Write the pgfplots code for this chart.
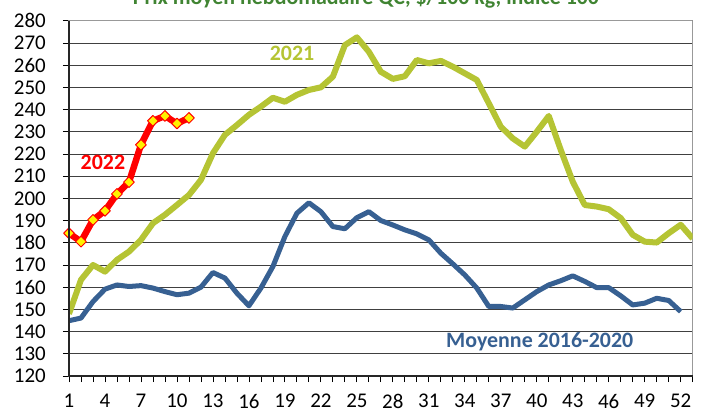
\documentclass[border=0pt]{standalone}
\usepackage{fontspec}
\setmainfont{Carlito}
\usepackage{pgfplots}
\pgfplotsset{compat=1.18}
\definecolor{cgreen}{RGB}{181,196,52}
\definecolor{cblue}{RGB}{55,96,146}
\definecolor{ctitle}{RGB}{64,132,50}
\begin{document}
\begin{tikzpicture}
\begin{axis}[at={(0,0)}, anchor=south west, scale only axis,
  width=623.7bp, height=355.3bp,
  xmin=1, xmax=53, ymin=120, ymax=280,
  xtick={1,4,...,52}, minor xtick={1,...,53}, ytick={120,130,...,280},
  xtick pos=bottom, ytick pos=left,
  tick align=outside, major tick length=6bp, minor tick length=6bp,
  every tick/.style={black, line width=0.8bp},
  minor tick style={black, line width=0.8bp},
  ymajorgrids, grid style={black!75, line width=0.8bp},
  axis line style={draw=black!40, line width=1.2bp},
  tick label style={font=\fontsize{21}{24}\selectfont, inner sep=0pt},
  /pgf/number format/assume math mode=true,
  xticklabel style={yshift=-12bp},
  yticklabel style={xshift=-17bp},
  after end axis/.append code={
    \draw[black!85, line width=1.6bp] (rel axis cs:0,1) -- (rel axis cs:0,0) -- (rel axis cs:1,0);
  },
  line join=round,
]
\addplot[cblue, line width=5bp] coordinates {
(1,144.9)(2,146.1)(3,153.5)(4,159.1)(5,161)(6,160.3)(7,160.7)(8,159.6)(9,158)(10,156.6)
(11,157.3)(12,160)(13,166.6)(14,164.1)(15,157.3)(16,151.6)(17,159.6)(18,169.3)(19,182.8)(20,193.3)
(21,198)(22,194)(23,187.3)(24,186.3)(25,191.3)(26,194)(27,190)(28,188)(29,185.8)(30,184)
(31,181.3)(32,175.3)(33,170.5)(34,165.5)(35,159.6)(36,151.3)(37,151.3)(38,150.6)(39,154.3)(40,158)
(41,161)(42,162.9)(43,165.1)(44,162.6)(45,159.8)(46,159.8)(47,156.1)(48,152)(49,152.8)(50,155)
(51,154)(52,149)};
\addplot[cgreen, line width=6bp] coordinates {
(1,148)(2,163.3)(3,170)(4,167)(5,172.3)(6,176)(7,181.3)(8,188.8)(9,192.6)(10,197)
(11,201.5)(12,208.3)(13,220.3)(14,228.6)(15,233)(16,237.6)(17,241.3)(18,245.3)(19,243.5)(20,246.6)
(21,248.8)(22,250)(23,254.8)(24,269)(25,272.5)(26,266)(27,257)(28,253.8)(29,255)(30,262.3)
(31,260.8)(32,261.9)(33,259.3)(34,256.3)(35,253.3)(36,242.8)(37,232.3)(38,227)(39,223.3)(40,230)
(41,237.1)(42,221.8)(43,207.5)(44,197)(45,196.3)(46,195.1)(47,191.1)(48,183.6)(49,180.5)(50,180.1)
(51,184.3)(52,188.1)(53,181.9)};
\addplot[red, line width=6.5bp, mark=square*, mark size=3.8bp,
  mark options={fill=yellow, draw=red, line width=1bp, rotate=45}] coordinates {
(1,184.3)(2,180.5)(3,190.3)(4,194.4)(5,202)(6,207.3)(7,224.1)(8,234.9)(9,237.1)(10,233.7)(11,236.2)};
\node[font=\fontsize{22}{26}\selectfont\bfseries, text=red] at (axis cs:3.83,216) {2022};
\node[font=\fontsize{22}{26}\selectfont\bfseries, text=cgreen] at (axis cs:19.6,265.5) {2021};
\node[font=\fontsize{22}{26}\selectfont\bfseries, text=cblue] at (axis cs:40.25,135.5) {Moyenne 2016-2020};
\end{axis}
\node[anchor=base, font=\fontsize{22}{26}\selectfont\bfseries, text=ctitle] at (297bp,371bp) {Prix moyen hebdomadaire QC, \$/100 kg, indice 100};
\pgfresetboundingbox
\useasboundingbox (-69bp,-35bp) rectangle (635bp,376bp);
\end{tikzpicture}
\end{document}
